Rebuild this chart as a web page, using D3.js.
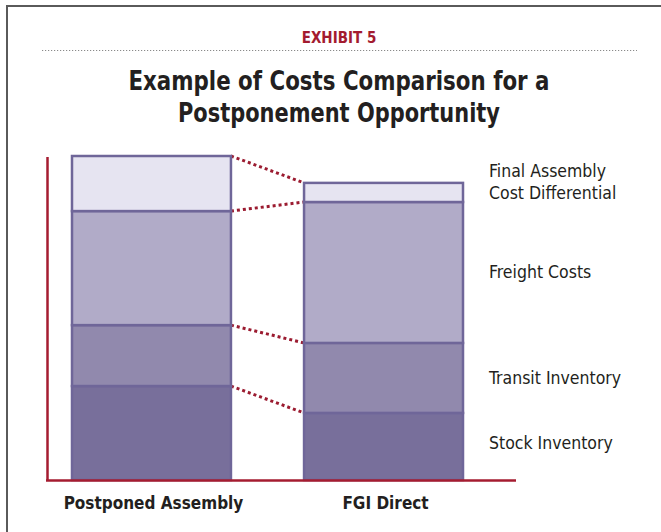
<!DOCTYPE html>
<html>
<head>
<meta charset="utf-8">
<script src="https://cdn.jsdelivr.net/npm/d3@7"></script>
<style>
  body { margin: 0; background: #fff; }
  svg text { font-family: "DejaVu Sans Condensed", "Liberation Sans Narrow", sans-serif; }
</style>
</head>
<body>
<svg class="exhibit" width="661" height="532"></svg>
<script>
// bars and cost layers (bottom to top)
var bars = ['Postponed Assembly', 'FGI Direct'];
var layers = ['Stock Inventory', 'Transit Inventory', 'Freight Costs', 'Final Assembly Cost Differential'];
var postponedValues = [29.0, 18.8, 35.2, 17.0];
var fgiValues = [20.7, 21.6, 43.5, 5.9];
var layerColors = ['#786f9b', '#9189ad', '#b1abc8', '#e6e4f1'];

var svg = d3.select('svg.exhibit');

// frame: top and left rules only
svg.append('line').attr('x1', 6).attr('x2', 661).attr('y1', 6).attr('y2', 6)
    .attr('stroke', '#5a5a5a').attr('stroke-width', 2);
svg.append('line').attr('x1', 7).attr('x2', 7).attr('y1', 5).attr('y2', 532)
    .attr('stroke', '#5a5a5a').attr('stroke-width', 2);

// heading
svg.append('text')
    .attr('x', 339).attr('y', 43)
    .attr('text-anchor', 'middle')
    .style('font-weight', 'bold').style('font-size', '15px')
    .attr('fill', '#a31b2f')
    .text('EXHIBIT 5');
svg.append('line').attr('x1', 42).attr('x2', 637).attr('y1', 50.5).attr('y2', 50.5)
    .attr('stroke', '#8a8a8a').attr('stroke-width', 1.2).attr('stroke-dasharray', '1.2,1.8');

var titleLines = ['Example of Costs Comparison for a', 'Postponement Opportunity'];
var titleWidths = [421, 322];
svg.selectAll('.title')
    .data(titleLines)
    .enter().append('text')
    .attr('class', 'title')
    .attr('x', 339)
    .attr('y', function(d, i) { return 90 + i * 32; })
    .attr('text-anchor', 'middle')
    .attr('textLength', function(d, i) { return titleWidths[i]; })
    .attr('lengthAdjust', 'spacingAndGlyphs')
    .style('font-weight', 'bold').style('font-size', '26px')
    .attr('fill', '#231f20')
    .text(function(d) { return d; });

// scales
var xScale = d3.scaleBand().domain(bars).range([72, 463]).paddingInner(0.315).paddingOuter(0);
var yScale = d3.scaleLinear().domain([0, 100]).range([480, 156]);

// stack the values
var table = bars.map(function(b, i) {
    var vals = i === 0 ? postponedValues : fgiValues;
    var row = {bar: b};
    layers.forEach(function(l, j) { row[l] = vals[j]; });
    return row;
});
var series = d3.stack().keys(layers)(table);

var chartG = svg.append('g');

// dotted connectors between boundaries of the two bars
var boundaries = [];
series.forEach(function(s) {
    boundaries.push({a: s[0][0], b: s[1][0]});
});
boundaries.push({a: series[series.length - 1][0][1], b: series[series.length - 1][1][1]});
chartG.selectAll('.connector')
    .data(boundaries.filter(function(d) { return d.a > 0; }))
    .enter().append('line')
    .attr('class', 'connector')
    .attr('x1', xScale(bars[0]) + xScale.bandwidth())
    .attr('x2', xScale(bars[1]))
    .attr('y1', function(d) { return yScale(d.a); })
    .attr('y2', function(d) { return yScale(d.b); })
    .attr('stroke', '#9b1b30').attr('stroke-width', 3)
    .attr('stroke-dasharray', '3,3');

// stacked bars
var layerG = chartG.selectAll('.layer')
    .data(series)
    .enter().append('g')
    .attr('class', 'layer')
    .attr('fill', function(d, i) { return layerColors[i]; });
layerG.selectAll('rect')
    .data(function(d) { return d; })
    .enter().append('rect')
    .attr('x', function(d) { return xScale(d.data.bar); })
    .attr('width', xScale.bandwidth())
    .attr('y', function(d) { return yScale(d[1]); })
    .attr('height', function(d) { return yScale(d[0]) - yScale(d[1]); })
    .attr('stroke', '#6f6699').attr('stroke-width', 2.5);

// axes drawn as plain red rules
chartG.append('line').attr('x1', 47.5).attr('x2', 47.5).attr('y1', 157).attr('y2', 481)
    .attr('stroke', '#a51c30').attr('stroke-width', 2.5);
chartG.append('line').attr('x1', 46).attr('x2', 516).attr('y1', 480.5).attr('y2', 480.5)
    .attr('stroke', '#a51c30').attr('stroke-width', 2.5);

// category labels
chartG.selectAll('.cat')
    .data(bars)
    .enter().append('text')
    .attr('class', 'cat')
    .attr('x', function(d) { return xScale(d) + xScale.bandwidth() / 2 + 2; })
    .attr('y', 509)
    .attr('text-anchor', 'middle')
    .style('font-weight', 'bold').style('font-size', '17px')
    .attr('fill', '#231f20')
    .text(function(d) { return d; });

// layer labels on the right
var labelLines = [['Stock Inventory'], ['Transit Inventory'], ['Freight Costs'], ['Final Assembly', 'Cost Differential']];
var labelY = [449, 384, 278, 177];
var labelG = chartG.selectAll('.lab')
    .data(layers)
    .enter().append('text')
    .attr('class', 'lab')
    .attr('x', 489)
    .attr('y', function(d, i) { return labelY[i]; })
    .style('font-size', '17.5px')
    .attr('fill', '#231f20');
labelG.selectAll('tspan')
    .data(function(d, i) { return labelLines[i]; })
    .enter().append('tspan')
    .attr('x', 489)
    .attr('dy', function(d, i) { return i === 0 ? 0 : 22; })
    .text(function(d) { return d; });
</script>
</body>
</html>
